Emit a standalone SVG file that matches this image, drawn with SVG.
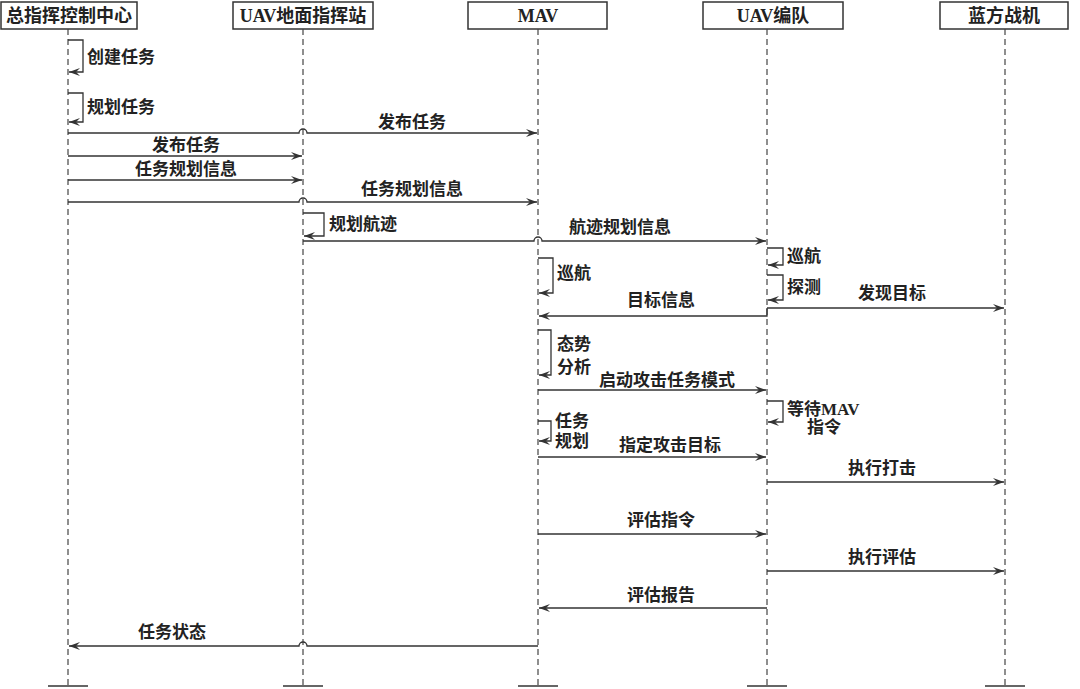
<svg xmlns="http://www.w3.org/2000/svg" width="1080" height="689" viewBox="0 0 1080 689">
<style>
.box{fill:#fff;stroke:#333;stroke-width:1.5}
.life{stroke:#444;stroke-width:1.2;stroke-dasharray:6,4;fill:none}
.msg{stroke:#333;stroke-width:1.3;fill:none}
text{font-family:"Liberation Serif","Noto Sans CJK SC",serif;font-weight:bold;font-size:17px;fill:#222}
.h{font-size:18px;text-anchor:middle}
.c{text-anchor:middle}
</style>
<defs>
<marker id="a" markerWidth="12" markerHeight="10" refX="11" refY="5" orient="auto" markerUnits="userSpaceOnUse">
<path d="M0,1 L11,5 L0,9 L4,5 Z" fill="#333"/>
</marker>
</defs>
<rect width="1080" height="689" fill="#fff"/>
<g id="n1"><rect class="box" x="1" y="2" width="136" height="27"/><text class="h" x="69" y="22">总指挥控制中心</text><line class="life" x1="68" y1="29" x2="68" y2="686"/><line class="msg" x1="48" y1="686" x2="88" y2="686"/></g>
<g id="n2"><rect class="box" x="233" y="2" width="140" height="27"/><text class="h" x="303" y="22">UAV地面指挥站</text><line class="life" x1="303" y1="29" x2="303" y2="686"/><line class="msg" x1="283" y1="686" x2="323" y2="686"/></g>
<g id="n3"><rect class="box" x="468" y="2" width="139" height="27"/><text class="h" x="538" y="22">MAV</text><line class="life" x1="538" y1="29" x2="538" y2="686"/><line class="msg" x1="518" y1="686" x2="558" y2="686"/></g>
<g id="n4"><rect class="box" x="703" y="2" width="140" height="27"/><text class="h" x="773" y="22">UAV编队</text><line class="life" x1="767" y1="29" x2="767" y2="686"/><line class="msg" x1="747" y1="686" x2="787" y2="686"/></g>
<g id="n5"><rect class="box" x="940" y="2" width="128" height="27"/><text class="h" x="1004" y="22">蓝方战机</text><line class="life" x1="1005" y1="29" x2="1005" y2="686"/><line class="msg" x1="985" y1="686" x2="1025" y2="686"/></g>
<g id="connectors">
<path class="msg" d="M68,40 H83 V72 H69" marker-end="url(#a)"/>
<path class="msg" d="M68,93 H83 V122 H69" marker-end="url(#a)"/>
<path class="msg" d="M68,133 H299 a4,4 0 0 1 8,0 H537" marker-end="url(#a)"/>
<path class="msg" d="M68,156 H302" marker-end="url(#a)"/>
<path class="msg" d="M68,180 H302" marker-end="url(#a)"/>
<path class="msg" d="M68,202 H299 a4,4 0 0 1 8,0 H537" marker-end="url(#a)"/>
<path class="msg" d="M303,213 H324 V236 H304" marker-end="url(#a)"/>
<path class="msg" d="M303,241 H534 a4,4 0 0 1 8,0 H766" marker-end="url(#a)"/>
<path class="msg" d="M767,248 H783 V265 H768" marker-end="url(#a)"/>
<path class="msg" d="M538,258 H553 V293 H539" marker-end="url(#a)"/>
<path class="msg" d="M767,275 H783 V300 H768" marker-end="url(#a)"/>
<path class="msg" d="M767,308 H1004" marker-end="url(#a)"/>
<path class="msg" d="M767,308 V316 H539" marker-end="url(#a)"/>
<path class="msg" d="M538,330 H551 V375 H539" marker-end="url(#a)"/>
<path class="msg" d="M538,390 H766" marker-end="url(#a)"/>
<path class="msg" d="M767,401 H783 V422 H768" marker-end="url(#a)"/>
<path class="msg" d="M538,421 H551 V441 H539" marker-end="url(#a)"/>
<path class="msg" d="M538,457 H766" marker-end="url(#a)"/>
<path class="msg" d="M767,482 H1004" marker-end="url(#a)"/>
<path class="msg" d="M538,534 H766" marker-end="url(#a)"/>
<path class="msg" d="M767,571 H1004" marker-end="url(#a)"/>
<path class="msg" d="M767,608 H539" marker-end="url(#a)"/>
<path class="msg" d="M538,646 H307 a4,4 0 0 0 -8,0 H69" marker-end="url(#a)"/>
</g>
<g id="labels">
<text x="87" y="63">创建任务</text>
<text x="87" y="113">规划任务</text>
<text class="c" x="412" y="128">发布任务</text>
<text class="c" x="186" y="151">发布任务</text>
<text class="c" x="186" y="175">任务规划信息</text>
<text class="c" x="412" y="195">任务规划信息</text>
<text x="329" y="230">规划航迹</text>
<text class="c" x="620" y="233">航迹规划信息</text>
<text x="787" y="262">巡航</text>
<text x="557" y="279">巡航</text>
<text x="787" y="293">探测</text>
<text class="c" x="661" y="306">目标信息</text>
<text class="c" x="892" y="299">发现目标</text>
<text x="557" y="350">态势</text>
<text x="557" y="373">分析</text>
<text class="c" x="667" y="386">启动攻击任务模式</text>
<text x="787" y="415">等待MAV</text>
<text x="807" y="433">指令</text>
<text x="555" y="427">任务</text>
<text x="555" y="447">规划</text>
<text class="c" x="670" y="451">指定攻击目标</text>
<text class="c" x="882" y="474">执行打击</text>
<text class="c" x="661" y="526">评估指令</text>
<text class="c" x="882" y="563">执行评估</text>
<text class="c" x="661" y="601">评估报告</text>
<text class="c" x="172" y="638">任务状态</text>
</g>
</svg>
